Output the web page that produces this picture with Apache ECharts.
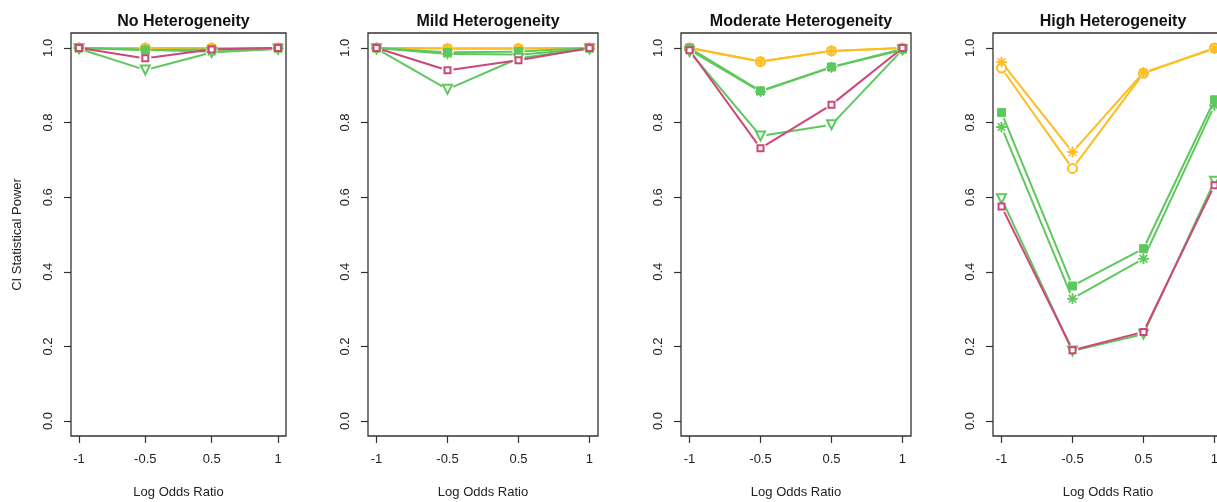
<!DOCTYPE html>
<html><head><meta charset="utf-8">
<script src="https://cdn.jsdelivr.net/npm/echarts@6/dist/echarts.min.js"></script>
<style>html,body{margin:0;padding:0;background:#fff;overflow:hidden}#c{width:1232px;height:502px}</style>
</head><body><div id="c"></div>
<script>
// ---- data ----
const xLabels = ['-1', '-0.5', '0.5', '1'];
const xPositions = [1, 2, 3, 4];
const yTicks = [0, 0.2, 0.4, 0.6, 0.8, 1.0];
const panelTitles = ['No Heterogeneity', 'Mild Heterogeneity', 'Moderate Heterogeneity', 'High Heterogeneity'];
const xTitle = 'Log Odds Ratio';
const yTitle = 'CI Statistical Power';

// one row per panel (No, Mild, Moderate, High), one value per x category
const yellowCircle = [
  [1.000, 1.000, 1.000, 1.000],
  [1.000, 0.998, 0.998, 1.000],
  [1.000, 0.963, 0.992, 1.000],
  [0.946, 0.677, 0.932, 1.000]
];
const yellowStar = [
  [1.000, 1.000, 1.000, 1.000],
  [1.000, 0.999, 0.999, 1.000],
  [1.000, 0.964, 0.992, 1.000],
  [0.962, 0.721, 0.934, 0.998]
];
const greenSquare = [
  [1.000, 0.994, 0.996, 1.000],
  [1.000, 0.988, 0.990, 1.000],
  [1.000, 0.885, 0.949, 0.997],
  [0.827, 0.362, 0.462, 0.861]
];
const greenStar = [
  [1.000, 0.995, 0.990, 0.998],
  [1.000, 0.984, 0.982, 0.998],
  [0.995, 0.883, 0.948, 0.995],
  [0.788, 0.328, 0.435, 0.846]
];
const greenTriangle = [
  [0.998, 0.941, 0.988, 0.997],
  [0.998, 0.889, 0.972, 0.998],
  [0.990, 0.764, 0.794, 0.995],
  [0.596, 0.188, 0.233, 0.643]
];
const redSquare = [
  [1.000, 0.972, 0.996, 1.000],
  [1.000, 0.940, 0.967, 1.000],
  [0.994, 0.731, 0.848, 1.000],
  [0.575, 0.190, 0.239, 0.632]
];

// ---- styling ----
const YELLOW = '#FDBD22', GREEN = '#5EC85E', RED = '#D0457A';
const ASTERISK = 'path://M9 0L11 0L11 20L9 20Z M0 9L20 9L20 11L0 11Z M2.2 3.6L3.6 2.2L17.8 16.4L16.4 17.8Z M16.4 2.2L17.8 3.6L3.6 17.8L2.2 16.4Z';
const seriesDefs = [
  {data: yellowCircle, color: YELLOW, symbol: 'emptyCircle', size: 9, bw: 2.4},
  {data: yellowStar, color: YELLOW, symbol: ASTERISK, size: 10, bw: 1},
  {data: greenSquare, color: GREEN, symbol: 'rect', size: 8, bw: 1},
  {data: greenStar, color: GREEN, symbol: ASTERISK, size: 10, bw: 1},
  {data: greenTriangle, color: GREEN, symbol: 'emptyTriangle', size: 9, bw: 1.6, rot: 180},
  {data: redSquare, color: RED, symbol: 'emptyRect', size: 6, bw: 1.6}
];
const gridBoxes = [
  {left: 71, width: 215},
  {left: 368, width: 230},
  {left: 681, width: 230},
  {left: 993, width: 230}
];
const FONT = '"Liberation Sans", Arial, sans-serif';
const TOP = 33, H = 403;
const GAP = 6; // R type="b": line segments stop short of the points

function segmentRenderer(color) {
  return function (params, api) {
    const a = api.coord([api.value(0), api.value(1)]);
    const b = api.coord([api.value(2), api.value(3)]);
    const dx = b[0] - a[0], dy = b[1] - a[1];
    const len = Math.sqrt(dx * dx + dy * dy);
    if (len <= 2 * GAP) return null;
    const ux = dx / len, uy = dy / len;
    return {type: 'line', shape: {x1: a[0] + ux * GAP, y1: a[1] + uy * GAP, x2: b[0] - ux * GAP, y2: b[1] - uy * GAP},
      style: {stroke: color, lineWidth: 2, lineCap: 'butt'}};
  };
}

const grids = [], xAxes = [], yAxes = [], series = [], titles = [], graphics = [];
gridBoxes.forEach((g, p) => {
  grids.push({left: g.left, top: TOP, width: g.width, height: H, show: true,
    borderColor: '#333', borderWidth: 1.3, backgroundColor: 'transparent', containLabel: false});
  xAxes.push({type: 'value', gridIndex: p, min: 0.88, max: 4.12, position: 'bottom',
    axisLine: {show: false, onZero: false}, splitLine: {show: false},
    axisTick: {show: true, customValues: xPositions, length: 7, lineStyle: {color: '#333', width: 1.2}},
    axisLabel: {customValues: xPositions, margin: 17, fontSize: 13, color: '#222', fontFamily: FONT,
      formatter: v => xLabels[Math.round(v) - 1]}});
  yAxes.push({type: 'value', gridIndex: p, min: -0.04, max: 1.04, position: 'left',
    axisLine: {show: false, onZero: false}, splitLine: {show: false},
    axisTick: {show: true, customValues: yTicks, length: 7, lineStyle: {color: '#333', width: 1.2}},
    axisLabel: {customValues: yTicks, rotate: 90, margin: 16, fontSize: 13, color: '#222', fontFamily: FONT,
      formatter: v => v.toFixed(1)}});
  titles.push({text: panelTitles[p], left: g.left + g.width / 2, top: 9, textAlign: 'center',
    textStyle: {fontSize: 16, fontWeight: 'bold', color: '#111', fontFamily: FONT}});
  graphics.push({type: 'text', x: g.left + g.width / 2, y: 492,
    style: {text: xTitle, fontSize: 13, fill: '#222', fontFamily: FONT, textAlign: 'center', textVerticalAlign: 'middle'}});
  seriesDefs.forEach(d => {
    const vals = d.data[p];
    const segs = [];
    for (let i = 0; i < vals.length - 1; i++) segs.push([xPositions[i], vals[i], xPositions[i + 1], vals[i + 1]]);
    series.push({type: 'custom', xAxisIndex: p, yAxisIndex: p, data: segs,
      encode: {x: [0, 2], y: [1, 3]}, renderItem: segmentRenderer(d.color), silent: true, animation: false, z: 3});
    series.push({type: 'scatter', xAxisIndex: p, yAxisIndex: p,
      data: vals.map((v, i) => [xPositions[i], v]),
      symbol: d.symbol, symbolSize: d.size, symbolRotate: d.rot || 0,
      itemStyle: {color: d.color, borderColor: d.color, borderWidth: d.bw, opacity: 1},
      emphasis: {disabled: true}, silent: true, animation: false, z: 3});
  });
});
graphics.push({type: 'text', x: 17, y: TOP + H / 2, rotation: Math.PI / 2,
  style: {text: yTitle, fontSize: 13, fill: '#222', fontFamily: FONT, textAlign: 'center', textVerticalAlign: 'middle'}});

const chart = echarts.init(document.getElementById('c'), null, {renderer: 'canvas', width: 1232, height: 502});
chart.setOption({
  animation: false, backgroundColor: '#fff',
  title: titles, grid: grids, xAxis: xAxes, yAxis: yAxes, series: series, graphic: graphics
});
</script></body></html>
